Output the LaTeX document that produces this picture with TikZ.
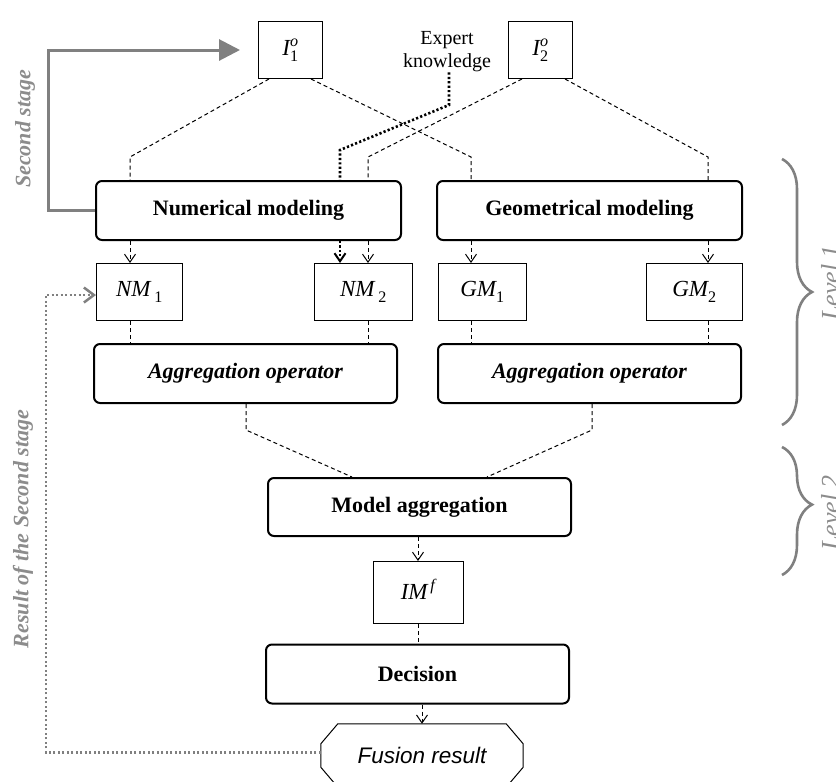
\documentclass[tikz,border=0pt]{standalone}
\usepackage{amsmath}
\usepackage{fontspec}
\setmainfont{Liberation Serif}
\newfontfamily\sansfam{Liberation Sans}
\usetikzlibrary{arrows.meta,calc,decorations.pathreplacing}

\definecolor{feedgray}{RGB}{128,128,128}
\definecolor{textgray}{RGB}{140,140,140}

% italic model names with upright indices, set in the text font
\newcommand{\mdl}[3]{$\textit{#1}_{\text{#2}}^{\textit{#3}}$}

\begin{document}
\begin{tikzpicture}[x=1pt,y=-1pt,
  stagebox/.style={draw, line width=2pt, rounded corners=6pt, inner sep=0pt,
    minimum width=303pt, minimum height=59pt,
    font=\fontsize{22}{26}\selectfont\bfseries},
  aggbox/.style={stagebox, font=\fontsize{22}{26}\selectfont\bfseries\itshape},
  databox/.style={draw, line width=1pt, inner sep=0pt, minimum height=57pt,
    font=\fontsize{23}{27}\selectfont},
  fusionbox/.style={inner sep=0pt, minimum width=202pt, minimum height=63pt,
    font=\fontsize{22.5}{26}\selectfont\sansfam\itshape},
  outline/.style={line width=1pt},
  link/.style={line width=1pt, dash pattern=on 4pt off 3pt},
  flow/.style={link, -{Straight Barb[length=8pt,width=11pt,line width=1pt]}},
  expertlink/.style={line width=2.6pt, dash pattern=on 2.2pt off 2.2pt},
  expertflow/.style={expertlink, -{Straight Barb[length=8pt,width=11pt,line width=2pt]}},
  stagearrow/.style={draw=feedgray, line width=3pt,
    -{Triangle[length=21pt,width=21pt]}},
  resultarrow/.style={draw=feedgray, line width=2.5pt, dash pattern=on 2.2pt off 2.3pt,
    -{Straight Barb[length=10pt,width=15pt,line width=2.5pt]}},
  levelbrace/.style={draw=feedgray, line width=2.6pt, decorate},
  sidelabel/.style={text=textgray, inner sep=0pt,
    font=\fontsize{22}{26}\selectfont\bfseries\itshape},
  levellabel/.style={text=textgray, inner sep=0pt,
    font=\fontsize{26}{30}\selectfont\itshape},
]
\useasboundingbox (0,0) rectangle (836,782);

% ---- column and row guides for the connectors
\coordinate (xa) at (130,0);
\coordinate (xb) at (340,0);
\coordinate (xc) at (368,0);
\coordinate (xd) at (471,0);
\coordinate (xe) at (708,0);
\coordinate (xf) at (246,0);
\coordinate (xg) at (352,0);
\coordinate (xh) at (592,0);
\coordinate (xi) at (487,0);
\coordinate (xk) at (449,0);
\coordinate (xl) at (48,0);
\coordinate (xr) at (46,0);
\coordinate (rowA) at (0,157);
\coordinate (rowB) at (0,430);
\coordinate (rowK) at (0,105);
\coordinate (rowE) at (0,150);

% ---- inputs
\node[databox, minimum width=64pt] (i1) at (290.5,50) {\mdl{I}{1}{o}};
\node[databox, minimum width=64pt] (i2) at (540.5,50) {\mdl{I}{2}{o}};
\node[align=center, inner sep=0pt, font=\fontsize{20}{23}\selectfont] (expert) at (447,52) {Expert\\knowledge};

% ---- level 1 : modeling
\node[stagebox, minimum width=305pt] (num) at (248.5,210.5) {Numerical modeling};
\node[stagebox, minimum width=305pt] (geo) at (589.5,210.5) {Geometrical modeling};

\node[databox, minimum width=86pt] (nm1) at (139.5,292) {\mdl{NM\,}{1}{}};
\node[databox, minimum width=98pt] (nm2) at (363.5,292) {\mdl{NM\,}{2}{}};
\node[databox, minimum width=88pt] (gm1) at (482.5,292) {\mdl{GM}{1}{}};
\node[databox, minimum width=96pt] (gm2) at (694.5,292) {\mdl{GM}{2}{}};

\node[aggbox] (aggL) at (245.5,373.5) {Aggregation operator};
\node[aggbox] (aggR) at (589.5,373.5) {Aggregation operator};

% ---- level 2 : fusion
\node[stagebox, minimum height=58pt] (model) at (419.5,507) {Model aggregation};
\node[databox, minimum width=90pt, minimum height=62pt] (imf) at (418,592.5) {\mdl{IM}{}{\,f}};
\node[stagebox] (dec) at (417.5,674) {Decision};
\node[fusionbox] (fusion) at (422,755.5) {Fusion result};
\draw[outline]
  ($(fusion.north west)+(17,0)$) -- ($(fusion.north east)+(-17,0)$)
  -- ($(fusion.north east)+(0,20)$) -- ($(fusion.south east)+(0,-20)$)
  -- ($(fusion.south east)+(-17,0)$) -- ($(fusion.south west)+(17,0)$)
  -- ($(fusion.south west)+(0,-20)$) -- ($(fusion.north west)+(0,20)$) -- cycle;

% ---- inputs to the modeling stages
\draw[link] ($(i1.south west)+(11,0)$) -- (xa |- rowA) -- (num.north -| xa);
\draw[link] ($(i1.south east)+(-12,0)$) -- (xd |- rowA) -- (geo.north -| xd);
\draw[link] ($(i2.south west)+(14,0)$) -- (xc |- rowA) -- (num.north -| xc);
\draw[link] ($(i2.south east)+(-8,0)$) -- (xe |- rowA) -- (geo.north -| xe);
\draw[expertlink] (xk |- expert.south) -- (xk |- rowK) -- (xb |- rowE) -- (num.north -| xb);

% ---- modeling stages to the models
\draw[flow] (num.south -| xa) -- (nm1.north -| xa);
\draw[expertflow] (num.south -| xb) -- (nm2.north -| xb);
\draw[flow] (num.south -| xc) -- (nm2.north -| xc);
\draw[flow] (geo.south -| xd) -- (gm1.north -| xd);
\draw[flow] (geo.south -| xe) -- (gm2.north -| xe);

% ---- models to the aggregation operators
\draw[link] (nm1.south -| xa) -- (aggL.north -| xa);
\draw[link] (nm2.south -| xc) -- (aggL.north -| xc);
\draw[link] (gm1.south -| xd) -- (aggR.north -| xd);
\draw[link] (gm2.south -| xe) -- (aggR.north -| xe);

% ---- aggregation to the decision
\draw[link] (aggL.south -| xf) -- (xf |- rowB) -- (model.north -| xg);
\draw[link] (aggR.south -| xh) -- (xh |- rowB) -- (model.north -| xi);
\draw[flow] (model.south -| imf) -- (imf.north);
\draw[link] (imf.south) -- (dec.north -| imf);
\draw[flow] (dec.south -| fusion) -- (fusion.north);

% ---- feedback loops
\draw[stagearrow, shorten >=18pt] (num.west) -- (xl |- num.west) -- (xl |- i1.west) -- (i1.west);
\coordinate (fusionout) at ($(fusion.west)+(0,-3)$);
\coordinate (nm1in) at ($(nm1.west)+(0,3)$);
\draw[resultarrow] (fusionout) -- (xr |- fusionout) -- (xr |- nm1in) -- (nm1in);
\node[sidelabel, rotate=90] (secondlbl) at (25,129) {Second stage};
\node[sidelabel, rotate=90] (resultlbl) at (23,529) {Result of the Second stage};

% ---- level braces
\draw[levelbrace, decoration={brace, amplitude=30pt}] (782,159) -- (782,425);
\draw[levelbrace, decoration={brace, amplitude=30pt, aspect=0.45}] (782,447) -- (782,575);
\node[levellabel, rotate=90, anchor=base] (lvl1) at (839,283) {Level 1};
\node[levellabel, rotate=90, anchor=base] (lvl2) at (839,513) {Level 2};
\end{tikzpicture}
\end{document}
